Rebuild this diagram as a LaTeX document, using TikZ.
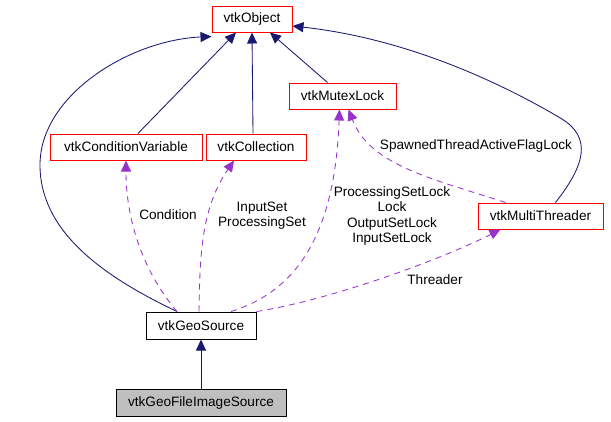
\documentclass[tikz,border=0pt]{standalone}
\usepackage{fontspec}
\setmainfont{Liberation Sans}
\usetikzlibrary{arrows.meta}
\definecolor{edgeblue}{RGB}{25,25,112}
\definecolor{edgepurple}{RGB}{153,50,204}
\definecolor{boxgray}{RGB}{191,191,191}
\begin{document}
\begin{tikzpicture}[x=1pt,y=-1pt,
  every node/.style={font=\fontsize{13.6}{15.5}\selectfont},
  cls/.style={draw=red,fill=white,line width=1pt,minimum height=26pt,inner sep=0pt},
  main/.style={cls,draw=black},
  inh/.style={draw=edgeblue,line width=0.85pt,-{Triangle[length=11pt,width=10pt]}},
  use/.style={draw=edgepurple,line width=0.85pt,dash pattern=on 6pt off 5pt,-{Triangle[length=11pt,width=10pt]}},
  lbl/.style={align=center,inner sep=1pt}]
\useasboundingbox (0,0) rectangle (611,421);
\node[cls,minimum width=80pt] (obj) at (252,19) {vtkObject};
\node[cls,minimum width=152pt] (cv) at (126,147) {vtkConditionVariable};
\node[cls,minimum width=100pt] (col) at (256,147) {vtkCollection};
\node[cls,minimum width=107pt] (mtx) at (342.5,96) {vtkMutexLock};
\node[cls,minimum width=125pt] (mt) at (540.5,216) {vtkMultiThreader};
\node[main,minimum width=110pt,minimum height=27pt] (geo) at (201,325.5) {vtkGeoSource};
\node[main,fill=boxgray,minimum width=170pt,minimum height=27pt] (gfi) at (201,402.5) {vtkGeoFileImageSource};
\coordinate (g1) at ([xshift=-24pt]geo.north);
\coordinate (c1) at ([xshift=12pt]cv.north);
\coordinate (k1) at ([xshift=-3pt]col.north);
\coordinate (m1) at ([xshift=-15pt]mtx.north);
\coordinate (t1) at ([xshift=15pt]mt.north);
\coordinate (t2) at ([xshift=-35pt]mt.north);
% inheritance
\draw[inh] (gfi) -- (geo);
\draw[inh] (g1) .. controls (100,275) and (40,230) .. (40,165) .. controls (40,95) and (130,40) .. ([yshift=-4pt]obj.south west);
\draw[inh] (c1) -- ([xshift=-16pt]obj.south);
\draw[inh] (k1) -- (obj.south);
\draw[inh] (m1) -- ([xshift=18pt]obj.south);
\draw[inh] (t1) .. controls (585,165) and (592,138) .. (562,119) .. controls (520,94) and (420,40) .. ([yshift=-7pt]obj.east);
% usage
\draw[use] (g1) .. controls (150,280) and (126,230) .. ([xshift=0pt]cv.south);
\node[lbl] at (168,215) {Condition};
\draw[use] ([xshift=-2pt]geo.north) .. controls (200,260) and (200,210) .. ([xshift=-22pt]col.south);
\node[lbl] at (262,215.5) {InputSet\\ProcessingSet};
\draw[use] ([xshift=30pt]geo.north) .. controls (300,290) and (335,230) .. ([xshift=-3pt]mtx.south);
\node[lbl] at (392,216) {ProcessingSetLock\\Lock\\OutputSetLock\\InputSetLock};
\draw[use] (t2) .. controls (430,178) and (370,165) .. ([xshift=6pt]mtx.south);
\node[lbl] at (476,146) {SpawnedThreadActiveFlagLock};
\draw[use] (geo.north east) .. controls (330,300) and (440,260) .. ([xshift=-40pt]mt.south);
\node[lbl] at (435,280) {Threader};
\end{tikzpicture}
\end{document}
